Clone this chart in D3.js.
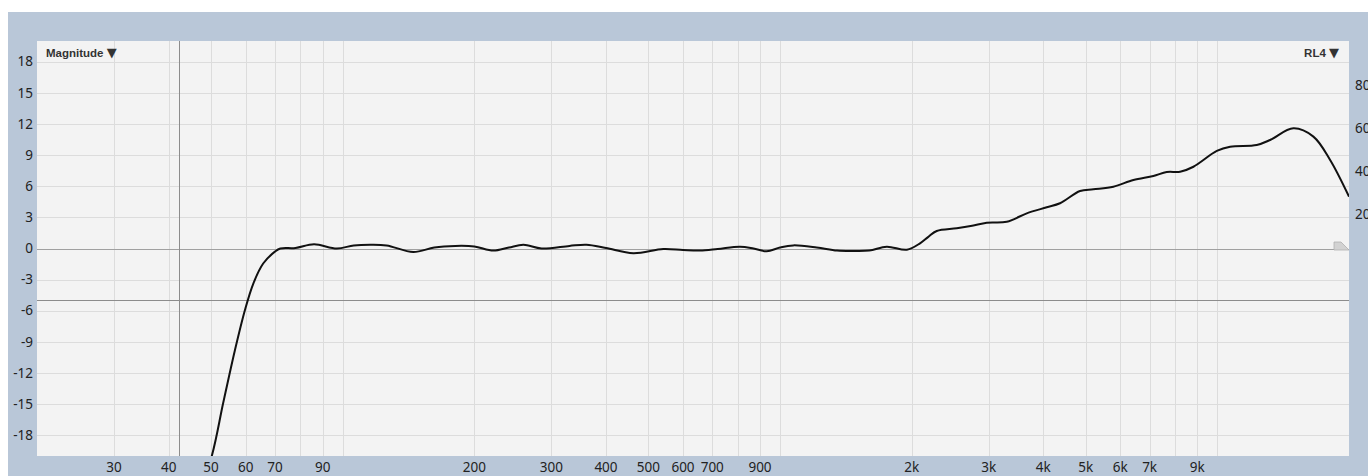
<!DOCTYPE html>
<html>
<head>
<meta charset="utf-8">
<script src="https://cdn.jsdelivr.net/npm/d3@7"></script>
<style>
  body { margin: 0; background: #fff; }
  text { font-family: "Noto Sans", "DejaVu Sans", sans-serif; }
</style>
</head>
<body>
<div id="chart"></div>
<script>
// magnitude response chart, log frequency axis

var W = 1368, H = 476;
var plot = { left: 37, top: 41, right: 1349, bottom: 456 };

var freqs = [45, 50.2, 53.3, 56.7, 59.8, 62.5, 65.8, 70, 72, 78, 86, 97, 106, 116, 126, 145, 162, 181, 200, 221, 240, 259, 285, 330, 361, 400, 462, 541, 600, 656, 720, 810, 870, 932, 1000, 1072, 1213, 1350, 1469, 1600, 1754, 1950, 2090, 2180, 2282, 2536, 2750, 2970, 3300, 3666, 4073, 4368, 4854, 5206, 5784, 6428, 7140, 7662, 8220, 8818, 9972, 10696, 12305, 13198, 14928, 16582, 18108, 20000];
var mags = [-26, -20, -14.9, -9.8, -5.9, -3.35, -1.45, -0.3, 0, 0.05, 0.4, 0, 0.3, 0.37, 0.3, -0.34, 0.1, 0.25, 0.2, -0.2, 0.1, 0.35, 0, 0.25, 0.37, 0.05, -0.46, -0.05, -0.15, -0.2, -0.05, 0.18, 0, -0.27, 0.1, 0.3, 0.1, -0.2, -0.24, -0.2, 0.18, -0.12, 0.5, 1.1, 1.69, 1.95, 2.2, 2.49, 2.58, 3.39, 3.97, 4.36, 5.54, 5.7, 5.96, 6.6, 6.99, 7.37, 7.4, 7.88, 9.4, 9.81, 9.98, 10.46, 11.58, 10.78, 8.53, 5.0];

// grid + tick labels
var gridFreqs = [30, 40, 50, 60, 70, 80, 90, 100, 200, 300, 400, 500, 600, 700, 800, 900, 1000, 2000, 3000, 4000, 5000, 6000, 7000, 8000, 9000, 10000];
var freqLabels = [[30, "30"], [40, "40"], [50, "50"], [60, "60"], [70, "70"], [90, "90"], [200, "200"], [300, "300"], [400, "400"], [500, "500"], [600, "600"], [700, "700"], [900, "900"], [2000, "2k"], [3000, "3k"], [4000, "4k"], [5000, "5k"], [6000, "6k"], [7000, "7k"], [9000, "9k"]];
var dbTicks = [18, 15, 12, 9, 6, 3, 0, -3, -6, -9, -12, -15, -18];
var rightTicks = [80, 60, 40, 20];

// cursor crosshair
var cursorFreq = 42.2, cursorDb = -5;

var x = d3.scaleLog().domain([20, 20000]).range([plot.left, plot.right]);
var y = d3.scaleLinear().domain([-20, 20]).range([plot.bottom, plot.top]);
var yR = d3.scaleLinear().domain([20, 80]).range([214, 85]);

var svg = d3.select("#chart").append("svg")
    .attr("width", W)
    .attr("height", H);

// blue frame
svg.append("rect")
    .attr("x", 8).attr("y", 12)
    .attr("width", W - 8).attr("height", H - 12)
    .attr("fill", "#b9c7d8");

svg.append("rect")
    .attr("x", plot.left).attr("y", plot.top)
    .attr("width", plot.right - plot.left).attr("height", plot.bottom - plot.top)
    .attr("fill", "#f3f3f3");

svg.append("clipPath").attr("id", "clip")
    .append("rect")
    .attr("x", plot.left).attr("y", plot.top)
    .attr("width", plot.right - plot.left).attr("height", plot.bottom - plot.top);

var gGrid = svg.append("g");

gGrid.selectAll(".vgrid")
    .data(gridFreqs)
    .enter().append("line")
    .attr("x1", function (d) { return Math.round(x(d)) + 0.5; })
    .attr("x2", function (d) { return Math.round(x(d)) + 0.5; })
    .attr("y1", plot.top).attr("y2", plot.bottom)
    .attr("stroke", "#dcdcdc");

gGrid.selectAll(".hgrid")
    .data(dbTicks.filter(function (d) { return d != 0; }))
    .enter().append("line")
    .attr("x1", plot.left).attr("x2", plot.right)
    .attr("y1", function (d) { return Math.round(y(d)) + 0.5; })
    .attr("y2", function (d) { return Math.round(y(d)) + 0.5; })
    .attr("stroke", "#dcdcdc");

// zero line + crosshair
gGrid.append("line")
    .attr("x1", plot.left).attr("x2", plot.right)
    .attr("y1", Math.round(y(0)) + 0.5).attr("y2", Math.round(y(0)) + 0.5)
    .attr("stroke", "#a0a0a0");
gGrid.append("line")
    .attr("x1", plot.left).attr("x2", plot.right)
    .attr("y1", Math.round(y(cursorDb)) + 0.5).attr("y2", Math.round(y(cursorDb)) + 0.5)
    .attr("stroke", "#8c8c8c");
gGrid.append("line")
    .attr("x1", Math.round(x(cursorFreq)) + 0.5).attr("x2", Math.round(x(cursorFreq)) + 0.5)
    .attr("y1", plot.top).attr("y2", plot.bottom)
    .attr("stroke", "#8c8c8c");

// little flag at end of zero line
var y0 = Math.round(y(0));
svg.append("path")
    .attr("d", "M" + (plot.right - 15) + "," + (y0 + 1) + "V" + (y0 - 7) + "H" + (plot.right - 8) + "L" + plot.right + "," + (y0 + 1) + "Z")
    .attr("fill", "#d2d2d2")
    .attr("stroke", "#b0b0b0")
    .attr("stroke-width", 0.8);

// curve
var pts = freqs.map(function (f, i) { return [f, mags[i]]; });
svg.append("path")
    .datum(pts)
    .attr("clip-path", "url(#clip)")
    .attr("fill", "none")
    .attr("stroke", "#111")
    .attr("stroke-width", 2)
    .attr("d", d3.line()
        .x(function (d) { return x(d[0]); })
        .y(function (d) { return y(d[1]); })
        .curve(d3.curveCatmullRom.alpha(0.5)));

// axis labels
svg.selectAll(".ylab")
    .data(dbTicks)
    .enter().append("text")
    .attr("x", 33)
    .attr("y", function (d) { return y(d); })
    .attr("dy", "0.35em")
    .attr("text-anchor", "end")
    .style("font-size", "13.5px")
    .attr("fill", "#222")
    .text(function (d) { return d; });

svg.selectAll(".xlab")
    .data(freqLabels)
    .enter().append("text")
    .attr("x", function (d) { return x(d[0]); })
    .attr("y", 472)
    .attr("text-anchor", "middle")
    .style("font-size", "13.5px")
    .attr("fill", "#222")
    .text(function (d) { return d[1]; });

// right axis, cut off by the window edge like the original
svg.selectAll(".rlab")
    .data(rightTicks)
    .enter().append("text")
    .attr("x", 1355)
    .attr("y", function (d) { return yR(d); })
    .attr("dy", "0.35em")
    .style("font-size", "13.5px")
    .attr("fill", "#222")
    .text(function (d) { return d; });

// panel titles
var t1 = svg.append("text")
    .attr("x", 46).attr("y", 57)
    .style("font-family", "'Liberation Sans', Arial, sans-serif")
    .style("font-size", "11.5px")
    .style("font-weight", "bold")
    .attr("fill", "#333");
t1.append("tspan").text("Magnitude ");
t1.append("tspan").style("font-family", "'DejaVu Sans', sans-serif").style("font-size", "13px").text("\u25BC");

var t2 = svg.append("text")
    .attr("x", 1339).attr("y", 57)
    .attr("text-anchor", "end")
    .style("font-family", "'Liberation Sans', Arial, sans-serif")
    .style("font-size", "11.5px")
    .style("font-weight", "bold")
    .attr("fill", "#333");
t2.append("tspan").text("RL4 ");
t2.append("tspan").style("font-family", "'DejaVu Sans', sans-serif").style("font-size", "13px").text("\u25BC");
</script>
</body>
</html>
